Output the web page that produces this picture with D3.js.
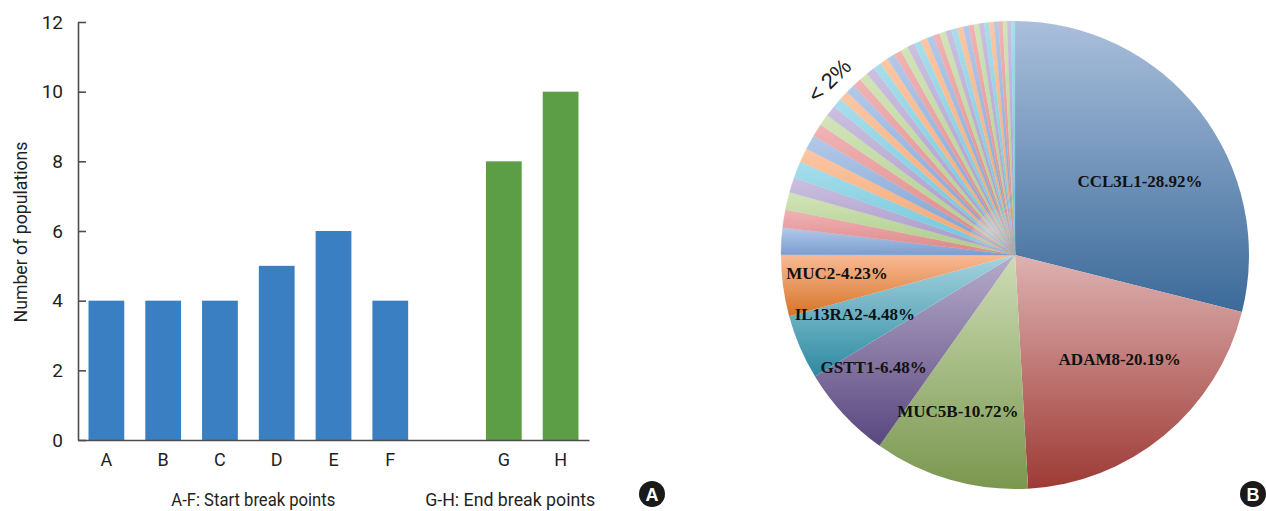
<!DOCTYPE html>
<html>
<head>
<meta charset="utf-8">
<script src="https://cdn.jsdelivr.net/npm/d3@7"></script>
<style>
  html, body { margin: 0; padding: 0; background: #fff; }
  svg { display: block; }
  .cond { font-family: "Liberation Sans Narrow", "Arial Narrow", "Roboto", sans-serif; fill: #231f20; }
  .pielab { font-family: "Liberation Serif", "Times New Roman", serif; font-weight: bold; font-size: 17px; fill: #111; }
</style>
</head>
<body>
<svg id="fig" width="1266" height="511"></svg>
<script>
// ---- Panel A: break point counts ----
const startCategories = ["A", "B", "C", "D", "E", "F"];
const startValues = [4, 4, 4, 5, 6, 4];
const endCategories = ["G", "H"];
const endValues = [8, 10];
const yTicks = [0, 2, 4, 6, 8, 10, 12];
const groupTitles = ["A-F: Start break points", "G-H: End break points"];
const yTitle = "Number of populations";

// ---- Panel B: gene shares (%) ----
const geneNames = ["CCL3L1", "ADAM8", "MUC5B", "GSTT1", "IL13RA2", "MUC2"];
const geneShares = [28.92, 20.19, 10.72, 6.48, 4.48, 4.23];
// remaining genes, each under 2%
const minorShares = [1.85, 1.25, 1.20, 1.05, 1.15, 0.98, 1.02, 0.88, 0.78, 0.77,
  0.66, 0.65, 0.63, 0.62, 0.60, 0.59, 0.57, 0.56, 0.54, 0.53, 0.51, 0.50, 0.48,
  0.47, 0.46, 0.45, 0.43, 0.42, 0.41, 0.40, 0.38, 0.37, 0.36, 0.35, 0.34, 0.33,
  0.31, 0.30, 0.29, 0.28, 0.26];
const minorLabel = "< 2%";

const svg = d3.select("#fig");
const defs = svg.append("defs");

// ================= Bar chart =================
const gapKey = "__gap__";
const domain = [...startCategories, gapKey, ...endCategories];
const bars = [
  ...startCategories.map((c, i) => ({ cat: c, value: startValues[i], grp: 0 })),
  ...endCategories.map((c, i) => ({ cat: c, value: endValues[i], grp: 1 }))
];

const x = d3.scaleBand().domain(domain).range([78, 589]).paddingInner(0.37).paddingOuter(0.185);
const y = d3.scaleLinear().domain([0, 12]).range([440, 22]);

const barG = svg.append("g");
barG.selectAll("rect").data(bars).join("rect")
  .attr("x", d => x(d.cat))
  .attr("y", d => y(d.value))
  .attr("width", x.bandwidth())
  .attr("height", d => y(0) - y(d.value))
  .attr("fill", d => d.grp === 0 ? "#3a7fc1" : "#5b9e45");

const yAxis = svg.append("g").attr("transform", "translate(78,0)")
  .call(d3.axisLeft(y).tickValues(yTicks).tickSize(-8).tickPadding(15).tickSizeOuter(0));
yAxis.select(".domain").attr("stroke", "#4d4d4d").attr("stroke-width", 1.6);
yAxis.selectAll(".tick line").attr("stroke", "#4d4d4d").attr("stroke-width", 1.6);
yAxis.selectAll(".tick text").attr("class", "cond").attr("font-size", 19).attr("fill", "#231f20");

const xAxis = svg.append("g").attr("transform", "translate(0,440)")
  .call(d3.axisBottom(x).tickSize(0).tickPadding(13).tickSizeOuter(0)
    .tickFormat(d => d === gapKey ? "" : d));
xAxis.select(".domain").attr("stroke", "#4d4d4d").attr("stroke-width", 1.6);
xAxis.selectAll(".tick text").attr("class", "cond").attr("font-size", 18).attr("fill", "#231f20");

svg.append("text").attr("class", "cond").attr("font-size", 18)
  .attr("text-anchor", "middle")
  .attr("textLength", 181).attr("lengthAdjust", "spacingAndGlyphs")
  .attr("transform", "translate(27,232) rotate(-90)")
  .text(yTitle);

// group titles under the axis (narrow type)
const titleX = [
  (x(startCategories[0]) + x(startCategories[startCategories.length - 1]) + x.bandwidth()) / 2 + 5,
  (x(endCategories[0]) + x(endCategories[endCategories.length - 1]) + x.bandwidth()) / 2 - 22
];
const titleLen = [164, 170];
svg.selectAll(".grpTitle").data(groupTitles).join("text")
  .attr("class", "cond grpTitle").attr("font-size", 18)
  .attr("text-anchor", "middle")
  .attr("x", (d, i) => titleX[i])
  .attr("y", 506)
  .attr("textLength", (d, i) => titleLen[i]).attr("lengthAdjust", "spacingAndGlyphs")
  .text(d => d);

// panel badges
function badge(cx, cy, letter) {
  svg.append("circle").attr("cx", cx).attr("cy", cy).attr("r", 13).attr("fill", "#1a1a1a");
  svg.append("text").attr("x", cx).attr("y", cy + 6.5)
    .attr("text-anchor", "middle")
    .attr("font-family", "Liberation Sans, Arial, sans-serif")
    .attr("font-weight", "bold").attr("font-size", 18).attr("fill", "#fff")
    .text(letter);
}
badge(652, 494, "A");
badge(1253, 494, "B");

// ================= Pie chart =================
const cx = 1015, cy = 255, R = 234;
const slices = [
  ...geneNames.map((n, i) => ({ name: n, value: geneShares[i], major: true })),
  ...minorShares.map((v, i) => ({ name: "minor" + i, value: v, major: false }))
];

const majorTop = ["#aabfdc", "#ddb2b1", "#cddcb5", "#b7acca", "#a6d4e0", "#f9ba96"];
const majorBot = ["#3b6a99", "#9e3a35", "#7a974f", "#59477f", "#2e8aa1", "#d77428"];
const minorTop = ["#b3c9e9", "#f0b3b4", "#d2e4b8", "#cbc0df", "#a8deeb", "#fbc7a4"];
const minorBot = ["#7a9dd0", "#dc8586", "#abca88", "#a595c7", "#6bc4da", "#f3a26b"];

const pie = d3.pie().sort(null).value(d => d.value);
const arcs = pie(slices);
const arc = d3.arc().innerRadius(0).outerRadius(R);

arcs.forEach((a, i) => {
  const k = i % 6;
  const g = defs.append("linearGradient").attr("id", "pg" + i)
    .attr("x1", 0).attr("y1", 0).attr("x2", 0).attr("y2", 1);
  g.append("stop").attr("offset", 0).attr("stop-color", a.data.major ? majorTop[k] : minorTop[k]);
  g.append("stop").attr("offset", 1).attr("stop-color", a.data.major ? majorBot[k] : minorBot[k]);
});

const pieG = svg.append("g").attr("transform", `translate(${cx},${cy})`);
pieG.selectAll("path").data(arcs).join("path")
  .attr("d", arc)
  .attr("fill", (d, i) => `url(#pg${i})`)
  .attr("stroke", (d, i) => d.data.major ? "none" : `url(#pg${i})`)
  .attr("stroke-width", 0.3);

// soft grey where the thin wedges converge
const haze = defs.append("radialGradient").attr("id", "haze");
haze.append("stop").attr("offset", 0).attr("stop-color", "#d4d4d4").attr("stop-opacity", 0.8);
haze.append("stop").attr("offset", 1).attr("stop-color", "#d4d4d4").attr("stop-opacity", 0);
const minorStart = arcs[geneNames.length].startAngle;
pieG.append("path")
  .attr("d", d3.arc().innerRadius(0).outerRadius(50).startAngle(minorStart).endAngle(2 * Math.PI)())
  .attr("fill", "url(#haze)");

// gene labels, placed along each wedge's bisector
const labelPlace = {
  CCL3L1: { r: 0.62, da: 0.13 },
  ADAM8: { r: 0.63, da: -0.1 },
  MUC5B: { r: 0.71, da: 0.07 },
  GSTT1: { r: 0.77, da: 0.08 },
  IL13RA2: { r: 0.73, da: 0.05 },
  MUC2: { r: 0.765, da: 0.03 }
};
arcs.filter(a => a.data.major).forEach(a => {
  const p = labelPlace[a.data.name];
  const ang = (a.startAngle + a.endAngle) / 2 + p.da;
  const rr = R * p.r;
  pieG.append("text").attr("class", "pielab")
    .attr("text-anchor", "middle")
    .attr("x", rr * Math.sin(ang))
    .attr("y", -rr * Math.cos(ang) + 6)
    .text(`${a.data.name}-${a.data.value.toFixed(2)}%`);
});

// label for the group of small wedges
const mAng = minorStart + (2 * Math.PI - minorStart) * 0.48;
const mR = R + 21;
pieG.append("text")
  .attr("font-family", "Liberation Sans, Arial, sans-serif")
  .attr("font-size", 22).attr("fill", "#1a1a1a")
  .attr("text-anchor", "middle")
  .attr("transform", `translate(${mR * Math.sin(mAng)},${-mR * Math.cos(mAng)}) rotate(${mAng * 180 / Math.PI - 358})`)
  .attr("dy", "0.35em")
  .text(minorLabel);
</script>
</body>
</html>
